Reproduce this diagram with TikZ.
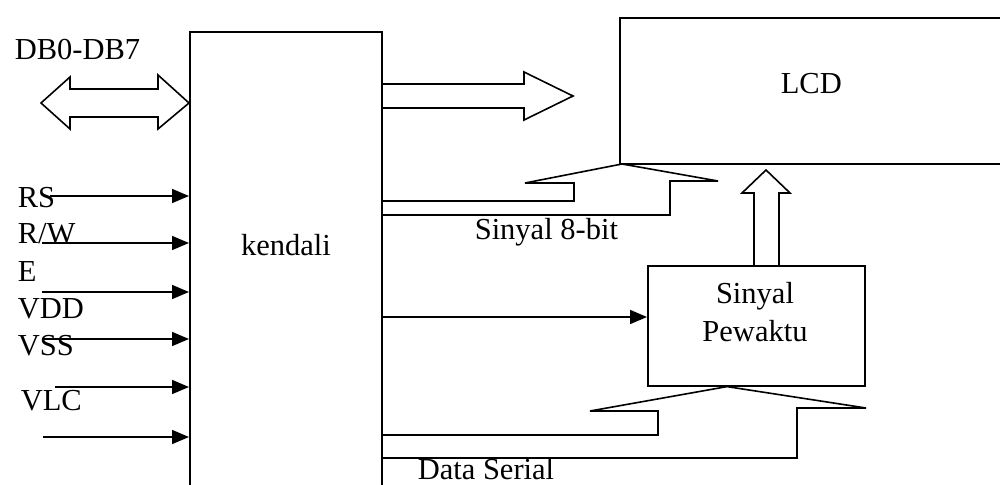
\documentclass[tikz,border=0pt]{standalone}
\usepackage{fontspec}
\setmainfont{Liberation Serif}
\usetikzlibrary{arrows.meta}
\begin{document}
\begin{tikzpicture}[x=1pt,y=-1pt,
  line width=1.6pt, line join=miter,
  txt/.style={inner sep=0pt, anchor=base west, font=\fontsize{30.5}{36}\selectfont},
  ctxt/.style={inner sep=0pt, anchor=base, font=\fontsize{30.5}{36}\selectfont},
  boxnode/.style={draw, inner sep=0pt, anchor=north west},
  inarrow/.style={-{Triangle[length=17pt,width=14pt]}},
  blockarrow/.style={draw, fill=white}]
\useasboundingbox (0,0) rectangle (1000,484);
\clip (0,0) rectangle (1000,484);
\fill[white] (0,0) rectangle (1000,484);

% boxes
\node[boxnode, minimum width=192pt, minimum height=470pt] (kendali) at (189,31) {};
\node[boxnode, minimum width=400pt, minimum height=146pt] (lcd) at (619,17) {};
\node[boxnode, minimum width=217pt, minimum height=120pt] (pewaktu) at (647,265) {};

% texts
\node[txt] (tdb) at (14,60) {DB0-DB7};
\node[ctxt] (tkendali) at (286,255) {kendali};
\node[txt] (tlcd) at (780,94) {LCD};
\node[ctxt] (tsin) at (755,303) {Sinyal};
\node[ctxt] (tpew) at (755,341) {Pewaktu};
\node[txt] (t8bit) at (474,239) {Sinyal 8-bit};
\node[txt] (tserial) at (417,479) {Data Serial};

\node[txt] (lrs) at (17,207) {RS};
\node[txt] (lrw) at (17,243) {R/W};
\node[txt] (le) at (17,281) {E};
\node[txt] (lvdd) at (17,318) {VDD};
\node[txt] (lvss) at (17,355) {VSS};
\node[txt] (lvlc) at (20,410) {VLC};

% input arrows
\coordinate (i1) at (50,196);
\coordinate (i2) at (42,243);
\coordinate (i3) at (42,292);
\coordinate (i4) at (42,339);
\coordinate (i5) at (55,387);
\coordinate (i6) at (43,437);
\foreach \c in {i1,i2,i3,i4,i5,i6}
  \draw[inarrow] (\c) -- (kendali.west |- \c);

% kendali -> pewaktu
\coordinate (p1) at (381,317);
\draw[inarrow] (kendali.east |- p1) -- (pewaktu.west |- p1);

% DB0-DB7 bidirectional block arrow
\draw[blockarrow] (41,103) -- (70,77) -- (70,89) -- (158,89) -- (158,75)
  -- (kendali.west |- 0,103) -- (158,129) -- (158,117) -- (70,117) -- (70,129) -- cycle;

% kendali -> LCD block arrow
\draw (kendali.east |- 0,84) -- (524,84) -- (524,72) -- (573,96) -- (524,120) -- (524,108) -- (kendali.east |- 0,108);

% Sinyal 8-bit bent arrow
\draw (kendali.east |- 0,201) -- (574,201) -- (574,183) -- (525,183) -- (622,164)
  -- (718,181) -- (670,181) -- (670,215) -- (kendali.east |- 0,215);

% pewaktu -> LCD up arrow
\draw (pewaktu.north -| 754,0) -- (754,193) -- (742,193) -- (766,170) -- (790,193)
  -- (779,193) -- (pewaktu.north -| 779,0);

% Data Serial bent arrow
\draw (kendali.east |- 0,435) -- (658,435) -- (658,411) -- (590,411) -- (pewaktu.south -| 727,0)
  -- (866,408) -- (797,408) -- (797,458) -- (kendali.east |- 0,458);
\end{tikzpicture}
\end{document}
